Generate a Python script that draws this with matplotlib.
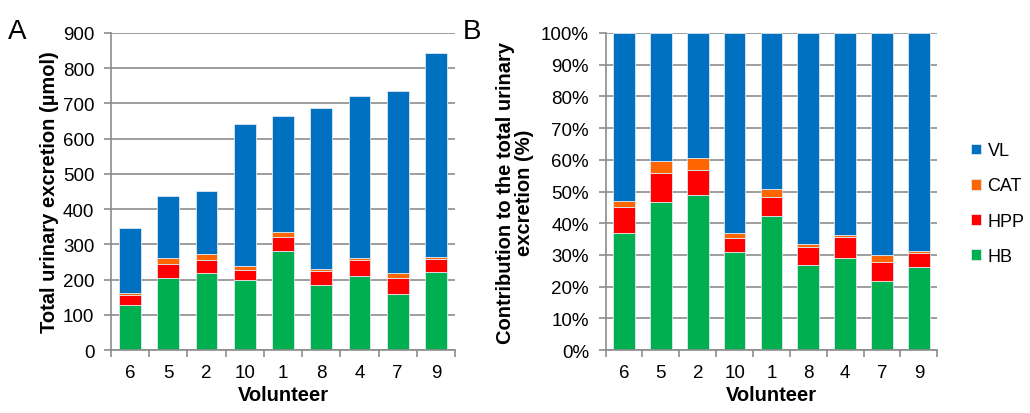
import numpy as np
import matplotlib.pyplot as plt
from matplotlib.ticker import MultipleLocator, FixedLocator, PercentFormatter

plt.rcParams['font.family'] = ['Liberation Sans', 'DejaVu Sans']

volunteers = ['6', '5', '2', '10', '1', '8', '4', '7', '9']
hb = np.array([128, 204, 220, 198, 281, 185, 210, 159, 222])
hpp = np.array([28, 41, 36, 28, 39, 38, 46, 46, 37])
cat = np.array([7, 16, 17, 12, 16, 7, 5, 14, 5])
vl = np.array([183, 177, 178, 404, 327, 456, 460, 515, 579])

names = ['HB', 'HPP', 'CAT', 'VL']
colors = ['#00B050', '#FF0000', '#FF6600', '#0070C0']
grey = '#8c8c8c'

fig = plt.figure(figsize=(10.3, 4.14), dpi=100)
axA = fig.add_axes([0.1078, 0.152, 0.334, 0.766])
axB = fig.add_axes([0.588, 0.152, 0.322, 0.766])

series = [hb, hpp, cat, vl]
total = hb + hpp + cat + vl
x = np.arange(len(volunteers))


def style(ax):
    ax.set_xlim(-0.5, len(volunteers) - 0.5)
    ax.yaxis.grid(True, color=grey, lw=1.2)
    ax.set_axisbelow(True)
    for s in ['top', 'right']:
        ax.spines[s].set_visible(False)
    for s in ['left', 'bottom']:
        ax.spines[s].set_color(grey)
        ax.spines[s].set_linewidth(1.2)
    ax.set_xticks(x)
    ax.set_xticklabels(volunteers)
    ax.xaxis.set_minor_locator(FixedLocator(np.arange(-0.5, len(volunteers), 1)))
    ax.tick_params(axis='x', which='major', length=0, pad=10, labelsize=13.5)
    ax.tick_params(axis='x', which='minor', length=5, color=grey, width=1.2)
    ax.tick_params(axis='y', length=5, color=grey, width=1.2, labelsize=13.5, pad=7)
    ax.set_xlabel('Volunteer', fontsize=14.5, fontweight='bold', labelpad=3)


# panel A: absolute amounts
bottom = np.zeros(len(volunteers))
for vals, nm, c in zip(series, names, colors):
    axA.bar(x, vals, 0.57, bottom=bottom, color=c, label=nm, edgecolor='#dfe8f0', lw=0.6)
    bottom = bottom + vals
style(axA)
axA.set_ylim(0, 900)
axA.yaxis.set_major_locator(MultipleLocator(100))
axA.set_ylabel('Total urinary excretion (µmol)', fontsize=14.5, fontweight='bold', labelpad=3)

# panel B: share of the total
bottom = np.zeros(len(volunteers))
for vals, nm, c in zip(series, names, colors):
    frac = vals / total * 100
    axB.bar(x, frac, 0.59, bottom=bottom, color=c, label=nm, edgecolor='#dfe8f0', lw=0.6)
    bottom = bottom + frac
style(axB)
axB.set_ylim(0, 100)
axB.yaxis.set_major_locator(MultipleLocator(10))
axB.yaxis.set_major_formatter(PercentFormatter(decimals=0))
axB.set_ylabel('Contribution to the total urinary\nexcretion (%)', fontsize=14.5,
               fontweight='bold', labelpad=5, linespacing=1.0)

h, l = axB.get_legend_handles_labels()
fig.legend(h[::-1], l[::-1], loc='center left', bbox_to_anchor=(0.936, 0.506),
           frameon=False, fontsize=13, handlelength=0.55, handleheight=0.55,
           handletextpad=0.35, labelspacing=1.0, borderaxespad=0)

fig.text(0.008, 0.905, 'A', fontsize=20)
fig.text(0.449, 0.905, 'B', fontsize=20)

fig.savefig('out.png', dpi=100)
